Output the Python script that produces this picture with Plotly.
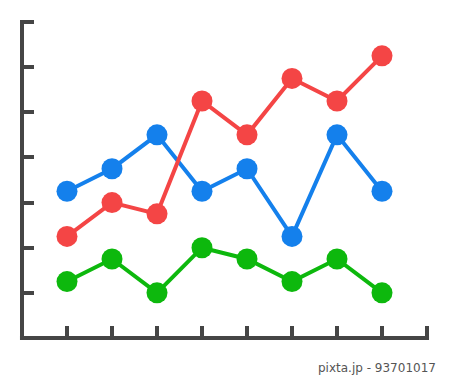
import plotly.graph_objects as go

x_vals = [1, 2, 3, 4, 5, 6, 7, 8]
red_vals = [2.25, 3.0, 2.75, 5.25, 4.5, 5.75, 5.25, 6.25]
blue_vals = [3.25, 3.75, 4.5, 3.25, 3.75, 2.25, 4.5, 3.25]
green_vals = [1.25, 1.75, 1.0, 2.0, 1.75, 1.25, 1.75, 1.0]
x_ticks = [1, 2, 3, 4, 5, 6, 7, 8, 9]
y_ticks = [1, 2, 3, 4, 5, 6, 7]

fig = go.Figure()
series = [
    (green_vals, "#0DB80D"),
    (blue_vals, "#1480EC"),
    (red_vals, "#F44545"),
]
for vals, col in series:
    fig.add_trace(go.Scatter(
        x=x_vals, y=vals, mode="lines+markers",
        line=dict(color=col, width=4),
        marker=dict(color=col, size=21, line=dict(width=0)),
        showlegend=False, hoverinfo="skip", cliponaxis=False,
    ))

axis_col = "#454545"
x_max = x_ticks[-1]
y_max = y_ticks[-1]
fig.update_xaxes(range=[0, x_max], showgrid=False, zeroline=False, showline=False,
                 ticks="inside", ticklen=12,
                 tickwidth=4, tickcolor=axis_col, tickvals=x_ticks,
                 showticklabels=False)
fig.update_yaxes(range=[0, y_max], showgrid=False, zeroline=False, showline=False,
                 ticks="inside", ticklen=12,
                 tickwidth=4, tickcolor=axis_col, tickvals=y_ticks,
                 showticklabels=False)

# axis lines centred on the zero positions
fig.add_shape(type="line", xref="paper", yref="paper", xsizemode="pixel",
              ysizemode="pixel", xanchor=0, yanchor=0,
              x0=-2, x1=0, y0=0, y1=0, line=dict(width=0))
fig.add_shape(type="line", xref="paper", yref="paper",
              x0=-0.005, x1=1.005, y0=0, y1=0,
              line=dict(color=axis_col, width=4), layer="above")
fig.add_shape(type="line", xref="paper", yref="paper",
              x0=0, x1=0, y0=-0.006, y1=1.006,
              line=dict(color=axis_col, width=4), layer="above")
# end ticks
fig.add_shape(type="line", xref="paper", yref="paper", ysizemode="pixel", yanchor=0,
              x0=1, x1=1, y0=0, y1=12,
              line=dict(color=axis_col, width=4))
fig.add_shape(type="line", xref="paper", yref="paper", xsizemode="pixel", xanchor=0,
              y0=1, y1=1, x0=0, x1=12,
              line=dict(color=axis_col, width=4))

fig.add_annotation(text="pixta.jp - 93701017", xref="paper", yref="paper",
                   x=1.0, y=-0.095, xanchor="right", yanchor="middle",
                   xshift=11, showarrow=False,
                   font=dict(family="DejaVu Sans", size=12, color="#555555"))

fig.update_layout(width=450, height=379,
                  margin=dict(l=22, r=23, t=22, b=41),
                  plot_bgcolor="white", paper_bgcolor="white")
fig.write_html("out.html")
